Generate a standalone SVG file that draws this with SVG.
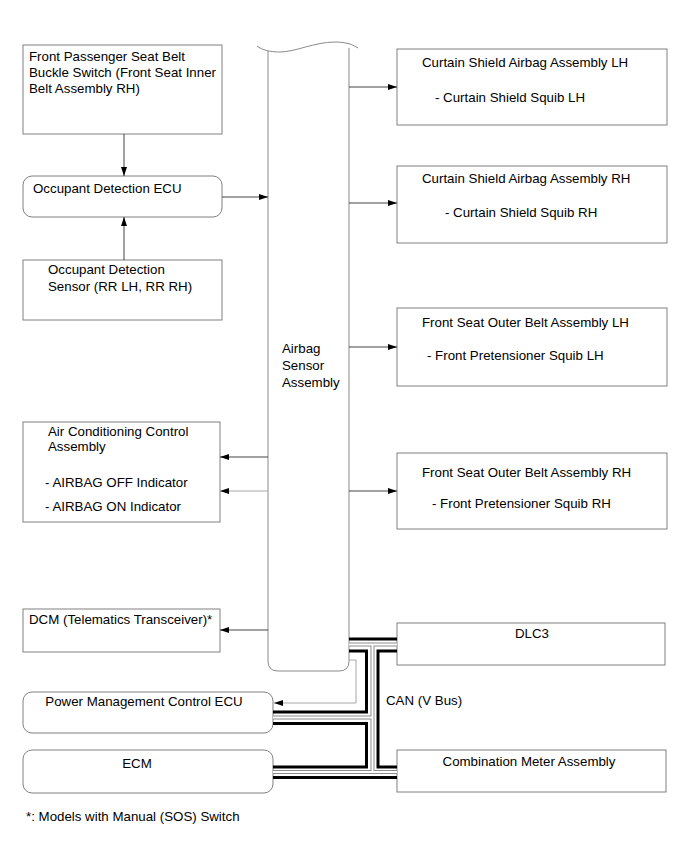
<svg xmlns="http://www.w3.org/2000/svg" width="691" height="854" viewBox="0 0 691 854">
<style>
text{font-family:"Liberation Sans",Arial,sans-serif;font-size:13.3px;fill:#000}
.box{fill:#fff;stroke:#808080;stroke-width:1}
.bar{fill:#fff;stroke:#8a8a8a;stroke-width:1}
.ln{fill:none;stroke:#444;stroke-width:1}
.lg{fill:none;stroke:#a8a8a8;stroke-width:1}
.thick{fill:none;stroke:#000;stroke-width:3}
.dblo{fill:none;stroke:#8c8c8c;stroke-width:4}
.dbli{fill:none;stroke:#fff;stroke-width:2}
.c{text-anchor:middle}
</style>
<defs>
<marker id="ah" markerUnits="userSpaceOnUse" markerWidth="10" markerHeight="6" refX="9" refY="3" orient="auto">
<path d="M0,0 L9,3 L0,6 z" fill="#000"/>
</marker>
</defs>

<g id="airbag-sensor">
<path class="bar" d="M268,51 V661 Q268,671 278,671 H339 Q349,671 349,661 V43"/>
<path class="bar" d="M257,46 C262,50 270,52 280,52 C295,52 315,42 335,42 C345,42 352,44 358,48"/>
<text x="282" y="353">Airbag</text>
<text x="282" y="370">Sensor</text>
<text x="282" y="387">Assembly</text>
</g>

<g id="buckle-switch">
<rect class="box" x="23" y="45" width="199" height="89"/>
<text x="29" y="61">Front Passenger Seat Belt</text>
<text x="29" y="77">Buckle Switch (Front Seat Inner</text>
<text x="29" y="93">Belt Assembly RH)</text>
</g>

<g id="occupant-ecu">
<rect class="box" x="23" y="176" width="199" height="41" rx="9"/>
<text x="33" y="193">Occupant Detection ECU</text>
</g>

<g id="occupant-sensor">
<rect class="box" x="23" y="260" width="199" height="60"/>
<text x="48" y="274">Occupant Detection</text>
<text x="48" y="291">Sensor (RR LH, RR RH)</text>
</g>

<g id="ac-control">
<rect class="box" x="23" y="422" width="197" height="100"/>
<text x="48" y="436">Air Conditioning Control</text>
<text x="48" y="451">Assembly</text>
<text x="45" y="487">- AIRBAG OFF Indicator</text>
<text x="45" y="511">- AIRBAG ON Indicator</text>
</g>

<g id="dcm">
<rect class="box" x="23" y="609" width="197" height="43"/>
<text x="29" y="624">DCM (Telematics Transceiver)*</text>
</g>

<g id="pmc-ecu">
<rect class="box" x="23" y="692" width="250" height="41" rx="9"/>
<text class="c" x="144" y="706">Power Management Control ECU</text>
</g>

<g id="ecm">
<rect class="box" x="23" y="750" width="250" height="43" rx="9"/>
<text class="c" x="137" y="768">ECM</text>
</g>

<g id="curtain-lh">
<rect class="box" x="397" y="49" width="270" height="76"/>
<text x="422" y="67">Curtain Shield Airbag Assembly LH</text>
<text x="435" y="102">- Curtain Shield Squib LH</text>
</g>

<g id="curtain-rh">
<rect class="box" x="397" y="166" width="270" height="77"/>
<text x="422" y="183">Curtain Shield Airbag Assembly RH</text>
<text x="445" y="217">- Curtain Shield Squib RH</text>
</g>

<g id="belt-lh">
<rect class="box" x="397" y="308" width="270" height="78"/>
<text x="422" y="327">Front Seat Outer Belt Assembly LH</text>
<text x="427" y="360">- Front Pretensioner Squib LH</text>
</g>

<g id="belt-rh">
<rect class="box" x="397" y="453" width="270" height="76"/>
<text x="422" y="477">Front Seat Outer Belt Assembly RH</text>
<text x="432" y="508">- Front Pretensioner Squib RH</text>
</g>

<g id="dlc3">
<rect class="box" x="397" y="623" width="268" height="42"/>
<text class="c" x="532" y="638">DLC3</text>
</g>

<g id="combination-meter">
<rect class="box" x="397" y="750" width="269" height="42"/>
<text class="c" x="529" y="766">Combination Meter Assembly</text>
</g>

<g id="connectors">
<line class="ln" x1="124" y1="134" x2="124" y2="176" marker-end="url(#ah)"/>
<line class="ln" x1="124" y1="260" x2="124" y2="217" marker-end="url(#ah)"/>
<line class="ln" x1="222" y1="197" x2="268" y2="197" marker-end="url(#ah)"/>
<line class="ln" x1="349" y1="87" x2="397" y2="87" marker-end="url(#ah)"/>
<line class="ln" x1="349" y1="203" x2="397" y2="203" marker-end="url(#ah)"/>
<line class="ln" x1="349" y1="347" x2="397" y2="347" marker-end="url(#ah)"/>
<line class="ln" x1="349" y1="491" x2="397" y2="491" marker-end="url(#ah)"/>
<line class="ln" x1="268" y1="457" x2="220" y2="457" marker-end="url(#ah)"/>
<line class="lg" x1="268" y1="491" x2="220" y2="491" marker-end="url(#ah)"/>
<line class="ln" x1="268" y1="630" x2="220" y2="630" marker-end="url(#ah)"/>
<path class="lg" d="M349,660 H356 V703 H274" marker-end="url(#ah)"/>

<path class="dblo" d="M349,644.5 H397 M372.5,644.5 V772 M273,717.5 H372.5 M273,772 H397"/>
<path class="dbli" d="M349,644.5 H397 M372.5,644.5 V772 M273,717.5 H372.5 M273,772 H397"/>

<path class="thick" d="M349,639 H397"/>
<path class="thick" d="M349,651 H366.5 V712 H273"/>
<path class="thick" d="M397,651 H378 V767 H397"/>
<path class="thick" d="M273,723.5 H366.5 V767 H273"/>
<path class="thick" d="M273,777.5 H397"/>
<text x="386" y="705">CAN (V Bus)</text>
</g>

<text x="26" y="821">*: Models with Manual (SOS) Switch</text>
</svg>
